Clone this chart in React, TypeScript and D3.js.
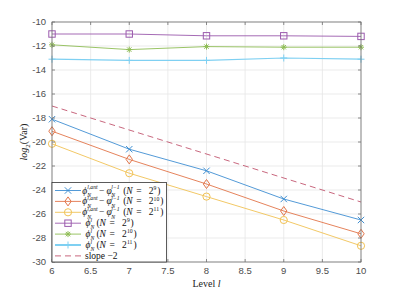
import React from "react";
import * as d3 from "d3";

const W = 399;
const H = 294;
const margin = { top: 22, right: 38, bottom: 32, left: 52 };

const levels = [6, 7, 8, 9, 10];
const diffN9 = [-18.1, -20.6, -22.4, -24.75, -26.5];
const diffN10 = [-19.1, -21.45, -23.5, -25.75, -27.65];
const diffN11 = [-20.15, -22.6, -24.55, -26.5, -28.65];
const phiN9 = [-11.0, -11.0, -11.15, -11.15, -11.2];
const phiN10 = [-11.9, -12.3, -12.05, -12.1, -12.1];
const phiN11 = [-13.1, -13.2, -13.2, -13.0, -13.1];
const slopeLevels = [6, 10];
const slopeVals = [-17, -25];

const xTicks = [6, 6.5, 7, 7.5, 8, 8.5, 9, 9.5, 10];
const yTicks = [-10, -12, -14, -16, -18, -20, -22, -24, -26, -28, -30];

const series = [
  { vals: diffN9, color: "#3f8fd2", marker: "x", kind: "diff", exp: "9" },
  { vals: diffN10, color: "#e2754a", marker: "diamond", kind: "diff", exp: "10" },
  { vals: diffN11, color: "#f1c255", marker: "circle", kind: "diff", exp: "11" },
  { vals: phiN9, color: "#9b5aad", marker: "square", kind: "phi", exp: "9" },
  { vals: phiN10, color: "#8fbd55", marker: "star", kind: "phi", exp: "10" },
  { vals: phiN11, color: "#7fd0f2", marker: "plus", kind: "phi", exp: "11" },
];

function Marker({ type, x, y, color }: any) {
  const s = 3.2;
  if (type === "x")
    return (
      <path d={`M${x - s},${y - s}L${x + s},${y + s}M${x - s},${y + s}L${x + s},${y - s}`} stroke={color} fill="none" />
    );
  if (type === "diamond")
    return <path d={`M${x},${y - 4.5}L${x + 3.2},${y}L${x},${y + 4.5}L${x - 3.2},${y}Z`} stroke={color} fill="none" />;
  if (type === "circle") return <circle cx={x} cy={y} r={3.6} stroke={color} fill="none" />;
  if (type === "square") return <rect x={x - 3.2} y={y - 3.2} width={6.4} height={6.4} stroke={color} fill="none" />;
  if (type === "plus")
    return <path d={`M${x - 3.5},${y}L${x + 3.5},${y}M${x},${y - 3.5}L${x},${y + 3.5}`} stroke={color} fill="none" />;
  if (type === "star")
    return (
      <path
        d={`M${x - 3},${y}L${x + 3},${y}M${x},${y - 3}L${x},${y + 3}M${x - 2.2},${y - 2.2}L${x + 2.2},${y + 2.2}M${x - 2.2},${y + 2.2}L${x + 2.2},${y - 2.2}`}
        stroke={color}
        fill="none"
      />
    );
  return null;
}

const serif = "'Liberation Serif', 'DejaVu Serif', serif";

// one <text> per legend row, pieces placed with absolute tspans
function LegendText({ x, y, kind, exp }: any) {
  const fs = 9.5;
  const ss = 5.7;
  const up = y - 4.4;
  const dn = y + 3.2;
  const pieces: any[] = [];
  let cx = x;
  const add = (t: string, px: number, py: number, size: number, italic = false) =>
    pieces.push(
      <tspan key={pieces.length} x={px} y={py} fontSize={size} fontStyle={italic ? "italic" : "normal"}>
        {t}
      </tspan>
    );
  if (kind === "diff") {
    add("ϕ", cx, y, fs, true);
    add("l,ant", cx + 5, up, ss, true);
    add("N", cx + 5, dn, ss, true);
    add("−", cx + 16.7, y, fs);
    add("φ", cx + 24.3, y, fs, true);
    add("l−1", cx + 29, up, ss, true);
    add("N", cx + 29, dn, ss, true);
    cx += 41;
  } else {
    cx += 3.3;
    add("ϕ", cx, y, fs, true);
    add("l", cx + 5, up, ss, true);
    add("N", cx + 5, dn, ss, true);
    cx += 11;
  }
  add("(", cx, y, fs);
  add("N", cx + 3, y, fs, true);
  add("=", cx + 13, y, fs);
  add("2", cx + 25.5, y, fs);
  add(exp, cx + 30.3, y - 3.9, ss);
  add(")", cx + (exp.length > 1 ? 37 : 34), y, fs);
  return (
    <text fontFamily={serif} fill="#111" fontSize={fs}>
      {pieces}
    </text>
  );
}

export default function App() {
  const x = d3.scaleLinear().domain([6, 10]).range([margin.left, W - margin.right]);
  const y = d3.scaleLinear().domain([-30, -10]).range([H - margin.bottom, margin.top]);
  const line = d3
    .line<number>()
    .x((_, i) => x(levels[i]))
    .y((d) => y(d));
  const slopeLine = d3
    .line<number>()
    .x((_, i) => x(slopeLevels[i]))
    .y((d) => y(d));

  const x0 = x(6);
  const x1 = x(10);
  const y0 = y(-30);
  const y1 = y(-10);
  const axisColor = "#6e6e6e";
  const tickColor = "#4d4d4d";

  const legX = x0;
  const legY = 182.5;
  const legW = 114.5;
  const legH = y0 - legY;
  const rowY = (i: number) => legY + 8 + i * 10.9;

  return (
    <svg width={W} height={H} style={{ position: "absolute", left: 0, top: 0, background: "#fff" }}>
      {/* grid */}
      <g stroke="#e6e6e6" strokeWidth={0.8}>
        {xTicks.map((t) => (
          <line key={"gx" + t} x1={x(t)} x2={x(t)} y1={y1} y2={y0} />
        ))}
        {yTicks.map((t) => (
          <line key={"gy" + t} x1={x0} x2={x1} y1={y(t)} y2={y(t)} />
        ))}
      </g>

      {/* series */}
      <path d={slopeLine(slopeVals) || ""} fill="none" stroke="#c2566f" strokeWidth={0.9} strokeDasharray="6,4" />
      {series.map((s, k) => (
        <g key={"s" + k}>
          <path d={line(s.vals) || ""} fill="none" stroke={s.color} strokeWidth={k === 5 ? 1.2 : 0.9} />
          {s.vals.map((v, i) => (
            <Marker key={i} type={s.marker} x={x(levels[i])} y={y(v)} color={s.color} />
          ))}
        </g>
      ))}

      {/* axes box and ticks */}
      <rect x={x0} y={y1} width={x1 - x0} height={y0 - y1} fill="none" stroke={axisColor} strokeWidth={0.8} />
      <g stroke={axisColor} strokeWidth={0.8}>
        {xTicks.map((t) => (
          <g key={"tx" + t}>
            <line x1={x(t)} x2={x(t)} y1={y0} y2={y0 - 3} />
            <line x1={x(t)} x2={x(t)} y1={y1} y2={y1 + 3} />
          </g>
        ))}
        {yTicks.map((t) => (
          <g key={"ty" + t}>
            <line x1={x0} x2={x0 + 3} y1={y(t)} y2={y(t)} />
            <line x1={x1} x2={x1 - 3} y1={y(t)} y2={y(t)} />
          </g>
        ))}
      </g>
      <g fontFamily="'Liberation Sans', Arial, sans-serif" fontSize={9.5} fill={tickColor}>
        {xTicks.map((t) => (
          <text key={"lx" + t} x={x(t)} y={y0 + 12} textAnchor="middle">
            {String(t)}
          </text>
        ))}
        {yTicks.map((t) => (
          <text key={"ly" + t} x={x0 - 6} y={y(t) + 3.4} textAnchor="end">
            {String(t)}
          </text>
        ))}
      </g>

      {/* axis labels */}
      <text x={(x0 + x1) / 2} y={287} textAnchor="middle" fontFamily={serif} fontSize={10} fill="#222">
        Level <tspan fontStyle="italic">l</tspan>
      </text>
      <text
        transform={`translate(27,${(y0 + y1) / 2}) rotate(-90)`}
        textAnchor="middle"
        fontFamily={serif}
        fontSize={10}
        fill="#222"
      >
        <tspan fontStyle="italic">log</tspan>
        <tspan fontSize={7} dy={2.5}>2</tspan>
        <tspan dy={-2.5}>(Var)</tspan>
      </text>

      {/* legend */}
      <rect x={legX} y={legY} width={legW} height={legH} fill="#fff" stroke="#333" strokeWidth={0.8} />
      {series.map((s, i) => {
        const ry = rowY(i);
        return (
          <g key={"leg" + i}>
            <line x1={legX + 3} x2={legX + 29} y1={ry} y2={ry} stroke={s.color} strokeWidth={i === 5 ? 2 : 0.9} />
            <Marker type={s.marker} x={legX + 16} y={ry} color={s.color} />
            <LegendText x={legX + 30.3} y={ry + 3} kind={s.kind} exp={s.exp} />
          </g>
        );
      })}
      <line
        x1={legX + 3}
        x2={legX + 29}
        y1={rowY(6)}
        y2={rowY(6)}
        stroke="#c2566f"
        strokeWidth={0.9}
        strokeDasharray="6,4"
      />
      <text x={legX + 33} y={rowY(6) + 3} fontFamily={serif} fontSize={9.5} fill="#111">
        slope −2
      </text>
    </svg>
  );
}
